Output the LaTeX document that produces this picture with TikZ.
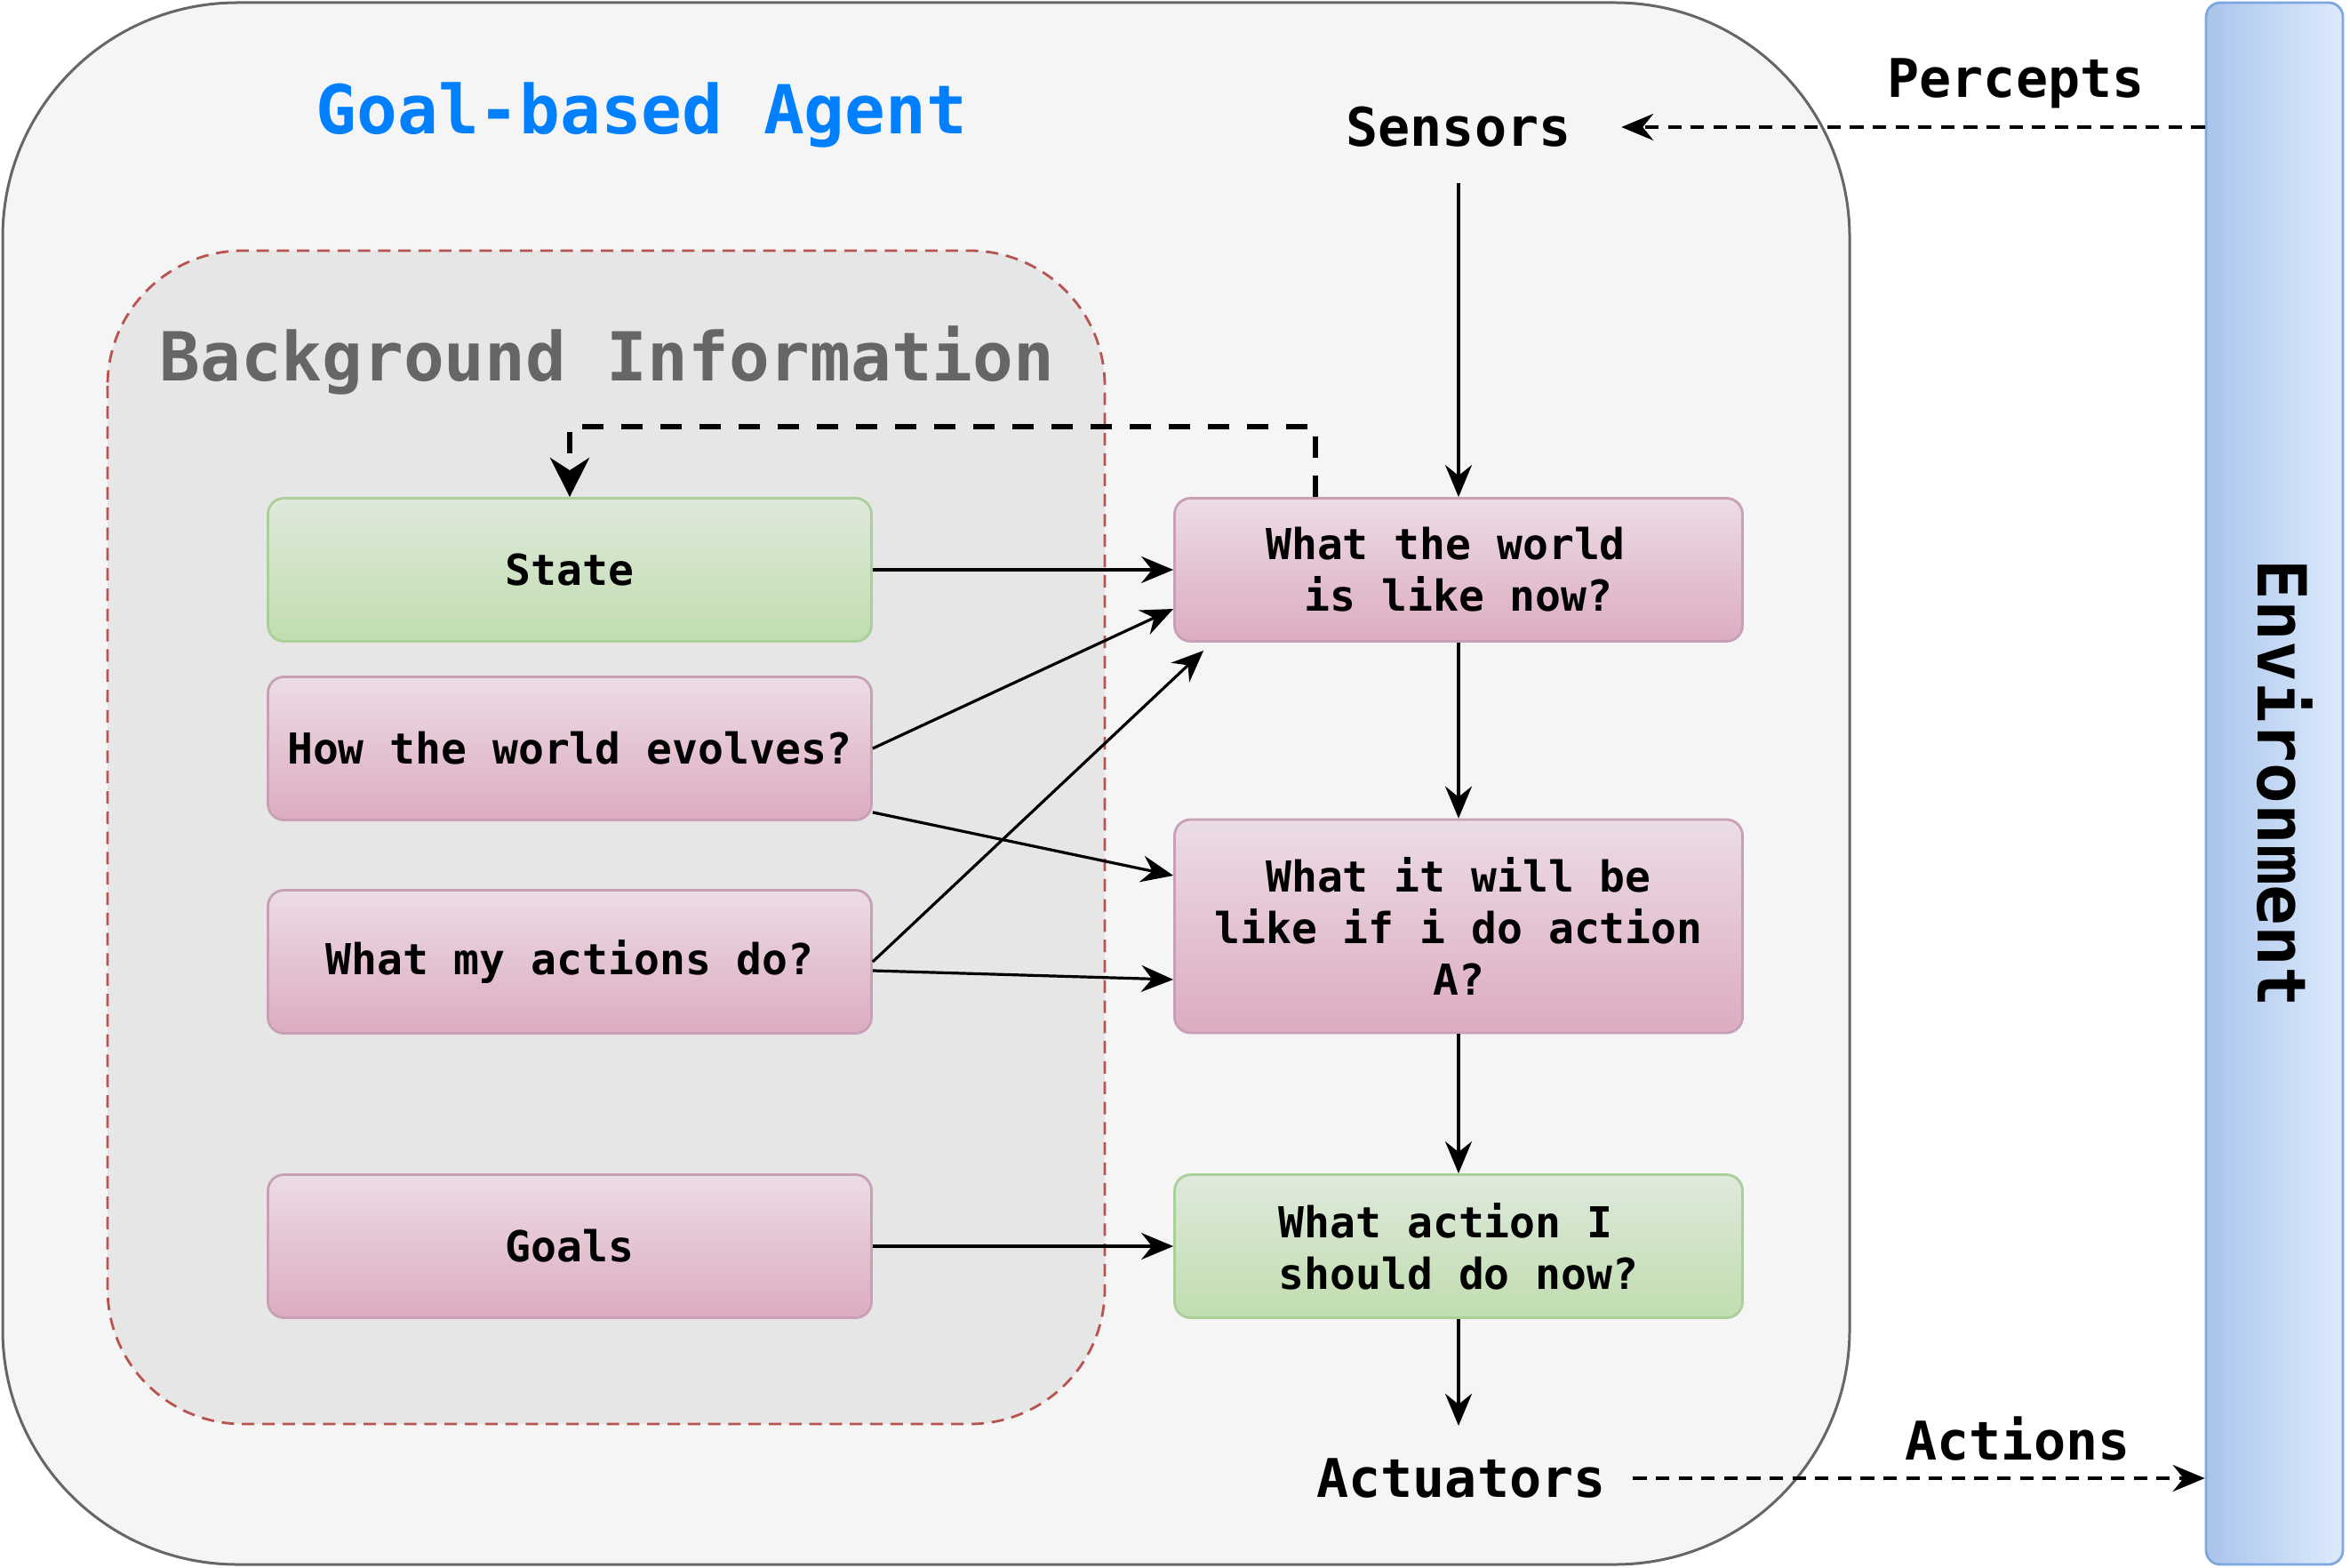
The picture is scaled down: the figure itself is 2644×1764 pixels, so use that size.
\documentclass[tikz,border=0pt]{standalone}
\usepackage{fontspec}
\setmonofont{DejaVu Sans Mono}
\usepackage{graphicx}
\usetikzlibrary{arrows.meta,calc}
\definecolor{agentfill}{HTML}{F5F5F5}
\definecolor{agentline}{HTML}{666666}
\definecolor{bgfill}{HTML}{E6E6E6}
\definecolor{bgline}{HTML}{B85450}
\definecolor{titleblue}{HTML}{007FFF}
\definecolor{bgtext}{HTML}{666666}
\definecolor{pinktop}{HTML}{EBDCE5}
\definecolor{pinkbot}{HTML}{DDABC1}
\definecolor{pinkline}{HTML}{C7A0B6}
\definecolor{greentop}{HTML}{DEE9DB}
\definecolor{greenbot}{HTML}{C0DDB0}
\definecolor{greenline}{HTML}{ABCF99}
\definecolor{envleft}{HTML}{A9C4EB}
\definecolor{envright}{HTML}{DDEAFC}
\definecolor{envline}{HTML}{7EA6E0}
\newcommand\boxfont{\ttfamily\bfseries\fontsize{12}{14.5}\selectfont}
\newcommand\lblfont{\ttfamily\bfseries\fontsize{15}{18}\selectfont}
\newcommand\agtitlefont{\ttfamily\bfseries\fontsize{19}{23}\selectfont}
\tikzset{
    agentbox/.style={draw=agentline, fill=agentfill, line width=0.75pt, rounded corners=66pt},
    bgbox/.style={draw=bgline, fill=bgfill, line width=0.7pt, dash pattern=on 3.5pt off 2.2pt, rounded corners=38pt},
    box/.style={rectangle, rounded corners=4.5pt, line width=0.7pt, minimum width=169.75pt,
        minimum height=40.25pt, align=center, font=\boxfont, inner sep=2pt},
    pinkbox/.style={box, draw=pinkline, top color=pinktop, bottom color=pinkbot},
    greenbox/.style={box, draw=greenline, top color=greentop, bottom color=greenbot},
    envbar/.style={rectangle, rounded corners=4pt, draw=envline, line width=0.7pt,
        left color=envleft, right color=envright, minimum width=38.5pt, minimum height=439.25pt,
        font=\agtitlefont, inner sep=0pt},
    lbl/.style={font=\lblfont, inner sep=0pt},
    conn/.style={draw, line width=0.8pt, -{Stealth[length=9pt,width=7.5pt,inset=3pt]}},
    dotconn/.style={conn, line width=0.9pt, dash pattern=on 3.8pt off 2.6pt},
    loopconn/.style={draw, line width=1.6pt, dash pattern=on 6pt off 5pt,
        -{Stealth[length=11pt,width=11pt,inset=3.5pt]}}
}
\begin{document}
\begin{tikzpicture}[x=0.25pt, y=-0.25pt]
    \useasboundingbox (0,0) rectangle (2644,1764);
    % containers
    \draw[agentbox] (3,3) rectangle (2081,1760);
    \draw[bgbox] (121,282) rectangle (1243,1602);
    \node[lbl, font=\agtitlefont, text=titleblue] (agenttitle) at (722,130) {Goal-based Agent};
    \node[lbl, font=\agtitlefont, text=bgtext] (bgtitle) at (683,405) {Background Information};
    % environment
    \node[envbar] (env) at (2559,881.5) {\rotatebox{-90}{\raisebox{3pt}[\height][\depth]{Environment}}};
    % background information
    \node[greenbox] (state)  at (641,641)  {State};
    \node[pinkbox]  (evolve) at (641,842)  {How the world evolves?};
    \node[pinkbox]  (myact)  at (641,1082) {What my actions do?};
    \node[pinkbox]  (goals)  at (641,1402) {Goals};
    % agent reasoning
    \node[pinkbox, minimum width=159.75pt] (worldnow) at (1641,641)
        {What the world\hphantom{x}\\is like now?};
    \node[pinkbox, minimum width=159.75pt, minimum height=60pt] (predict) at (1641,1042)
        {What it will be\\like if i do action\\A?};
    \node[greenbox, minimum width=159.75pt, align=left] (choose) at (1641,1402)
        {What action I\\should do now?};
    % sensors and actuators
    \node[lbl, inner xsep=14pt, inner ysep=10pt] (sensors) at (1641,143) {Sensors};
    \node[lbl, inner xsep=7.5pt, inner ysep=9pt] (actuators) at (1644,1663) {Actuators};
    \node[lbl] (percepts) at (2268,94) {Percepts};
    \node[lbl] (actions) at (2270,1619) {Actions};
    % connectors
    \draw[dotconn] (sensors.east -| env.west) -- (sensors.east);
    \draw[dotconn] (actuators.east) -- (actuators.east -| env.west);
    \draw[conn] (sensors.south) -- (worldnow.north);
    \draw[conn] (state) -- (worldnow);
    \draw[conn] (evolve.east) -- ($(worldnow.west)+(0,44)$);
    \draw[conn] ($(evolve.south east)+(0,-10)$) -- ($(predict.west)+(0,-57)$);
    \draw[conn] (myact.east) -- ($(worldnow.south west)+(34,9)$);
    \draw[conn] ($(myact.east)+(0,10)$) -- ($(predict.west)+(0,60)$);
    \draw[conn] (goals) -- (choose);
    \draw[conn] (worldnow) -- (predict);
    \draw[conn] (predict) -- (choose);
    \draw[conn] (choose.south) -- (choose.south |- actuators.north);
    \draw[loopconn] ($(worldnow.north west)+(160,0)$) -- ++(0,-79) -| (state.north);
\end{tikzpicture}
\end{document}
